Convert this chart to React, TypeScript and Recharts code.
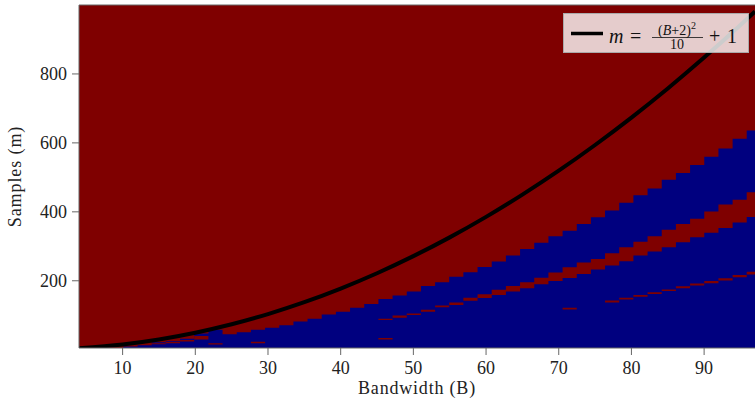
import {
  Area,
  CartesianGrid,
  ComposedChart,
  Legend,
  Line,
  ReferenceLine,
  XAxis,
  YAxis,
} from "recharts";

// column edges along the bandwidth axis (48 cells, last one runs past the plot edge)
const cellEdges = [
  4, 6.21, 8.16, 10.11, 12.06, 14.01, 15.95, 17.9, 19.85, 21.8, 23.75, 25.7,
  27.65, 29.6, 31.55, 33.5, 35.44, 37.39, 39.34, 41.29, 43.24, 45.19, 47.14,
  49.09, 51.04, 52.99, 54.93, 56.88, 58.83, 60.78, 62.73, 64.68, 66.63, 68.58,
  70.53, 72.48, 74.42, 76.37, 78.32, 80.27, 82.22, 84.17, 86.12, 88.07, 90.02,
  91.97, 93.92, 95.86, 97.81,
];

// upper edge of the blue (success) region per column
const blueTop = [
  5, 5, 5, 9, 13, 22, 25, 32, 47, 58, 45, 51, 58, 64, 71, 82, 90, 102, 110, 122,
  133, 147, 157, 169, 185, 196, 212, 225, 240, 256, 273, 292, 310, 329, 345, 365,
  384, 404, 426, 448, 468, 493, 513, 536, 560, 584, 612, 636,
];

// the wide red band inside the blue region
const bandLow = [
  null, null, null, null, null, 16, 19, 24, 30, null, null, null, null, null,
  null, null, null, null, null, null, null, 86, 93, 101, 110, 123, 130, 142, 150,
  159, 169, 178, 190, 199, 208, 220, 233, 244, 257, 273, 285, 297, 312, 326, 339,
  353, 369, 385,
];
const bandHigh = [
  null, null, null, null, null, 19, 23, 28, 40, null, null, null, null, null,
  null, null, null, null, null, null, null, 90, 99, 105, 116, 128, 137, 151, 161,
  174, 185, 196, 209, 224, 239, 253, 263, 280, 297, 313, 329, 348, 365, 380, 401,
  421, 435, 457,
];

// thin red stripe and isolated red cells lower down
const thinLow = [
  null, null, null, null, null, null, null, null, null, 15, null, null, 19, null,
  null, null, null, null, null, null, null, 30, null, null, null, null, null,
  null, null, null, null, null, null, null, 117, null, null, 137, 146, 154, 162,
  170, 178, 186, 193, 201, 210, 218,
];
const thinHigh = [
  null, null, null, null, null, null, null, null, null, 19, null, null, 23, null,
  null, null, null, null, null, null, null, 34, null, null, null, null, null,
  null, null, null, null, null, null, null, 122, null, null, 143, 151, 159, 167,
  175, 184, 192, 199, 207, 217, 226,
];

// reference curve m = (B+2)^2/10 + 1
const curveB = [4, 10, 15, 20, 25, 30, 35, 40, 45, 50, 55, 60, 65, 70, 75, 80, 85, 90, 95, 97];
const curveM = [
  4.6, 15.4, 29.9, 49.4, 73.9, 103.4, 137.9, 177.4, 221.9, 271.4, 325.9, 385.4,
  449.9, 519.4, 593.9, 673.4, 757.9, 847.4, 941.9, 981.1,
];

const xTicks = [10, 20, 30, 40, 50, 60, 70, 80, 90];
const yTicks = [200, 400, 600, 800];

const RED = "#7f0000";
const BLUE = "#00007f";
const AXIS = "#666";
const FONT = "Liberation Serif";

const cellRows = blueTop.flatMap((top, i) => {
  const row = {
    top,
    band: bandLow[i] == null ? null : [bandLow[i], bandHigh[i]],
    thin: thinLow[i] == null ? null : [thinLow[i], thinHigh[i]],
  };
  return [
    { b: cellEdges[i], ...row },
    { b: cellEdges[i + 1], ...row },
  ];
});

const curveRows = curveB.map((b, i) => ({ b, m: curveM[i] }));

function LegendBox() {
  const t = { fontFamily: FONT, fill: "#111" };
  return (
    <div
      style={{
        width: 186,
        height: 40,
        boxSizing: "border-box",
        background: "rgba(255,255,255,0.8)",
        border: "1px solid #aaa",
      }}
    >
      <svg width={184} height={38} style={{ display: "block" }}>
        <line x1={7} x2={39} y1={19.5} y2={19.5} stroke="#000" strokeWidth={3.5} />
        <text x={45} y={28.5} fontSize={20} fontStyle="italic" style={t}>m</text>
        <text x={66} y={28.5} fontSize={20} style={t}>=</text>
        <text x={113} y={20.5} fontSize={14} textAnchor="middle" style={t}>
          (<tspan fontStyle="italic">B</tspan>+2)<tspan fontSize={10} dy={-6}>2</tspan>
        </text>
        <line x1={88} x2={139} y1={23.5} y2={23.5} stroke="#111" strokeWidth={0.8} />
        <text x={113} y={34.5} fontSize={14} textAnchor="middle" style={t}>10</text>
        <text x={145} y={28.5} fontSize={20} style={t}>+</text>
        <text x={163} y={28.5} fontSize={20} style={t}>1</text>
      </svg>
    </div>
  );
}

export default function App() {
  return (
    <div style={{ position: "absolute", left: 0, top: 0, background: "#fff" }}>
      <ComposedChart
        width={755}
        height={403}
        data={cellRows}
        margin={{ top: 5, right: 0, left: 0, bottom: 0 }}
      >
        <CartesianGrid horizontal={false} vertical={false} fill={RED} fillOpacity={1} stroke="none" />
        <XAxis
          dataKey="b"
          type="number"
          domain={[4, 97]}
          allowDataOverflow
          ticks={xTicks}
          height={55}
          tickSize={7}
          tickMargin={6}
          axisLine={{ stroke: AXIS }}
          tickLine={{ stroke: AXIS }}
          tick={{ fontSize: 18, fill: "#222", fontFamily: FONT }}
          label={{
            value: "Bandwidth (B)",
            position: "insideBottom",
            offset: 9,
            style: { fontSize: 18, fill: "#222", fontFamily: FONT, letterSpacing: 0.8 },
          }}
        />
        <YAxis
          type="number"
          domain={[5, 1000]}
          allowDataOverflow
          ticks={yTicks}
          width={79}
          tickSize={7}
          tickMargin={5}
          axisLine={{ stroke: AXIS }}
          tickLine={{ stroke: AXIS }}
          tick={{ fontSize: 18, fill: "#222", fontFamily: FONT }}
          label={{
            value: "Samples (m)",
            angle: -90,
            position: "insideLeft",
            offset: 15,
            style: { fontSize: 18, fill: "#222", fontFamily: FONT, textAnchor: "middle", letterSpacing: 0.9 },
          }}
        />
        <ReferenceLine y={1000} stroke={AXIS} />
        <Area
          dataKey="top"
          type="linear"
          baseValue="dataMin"
          fill={BLUE}
          fillOpacity={1}
          stroke="none"
          isAnimationActive={false}
        />
        <Area
          dataKey="band"
          type="linear"
          fill={RED}
          fillOpacity={1}
          stroke="none"
          isAnimationActive={false}
        />
        <Area
          dataKey="thin"
          type="linear"
          fill={RED}
          fillOpacity={1}
          stroke="none"
          isAnimationActive={false}
        />
        <Line
          data={curveRows}
          dataKey="m"
          type="monotone"
          stroke="#000"
          strokeWidth={4}
          dot={false}
          activeDot={false}
          isAnimationActive={false}
        />
        <Legend
          layout="vertical"
          align="center"
          verticalAlign="middle"
          wrapperStyle={{ left: 563, top: 13, width: 186 }}
          content={() => <LegendBox />}
        />
      </ComposedChart>
    </div>
  );
}
